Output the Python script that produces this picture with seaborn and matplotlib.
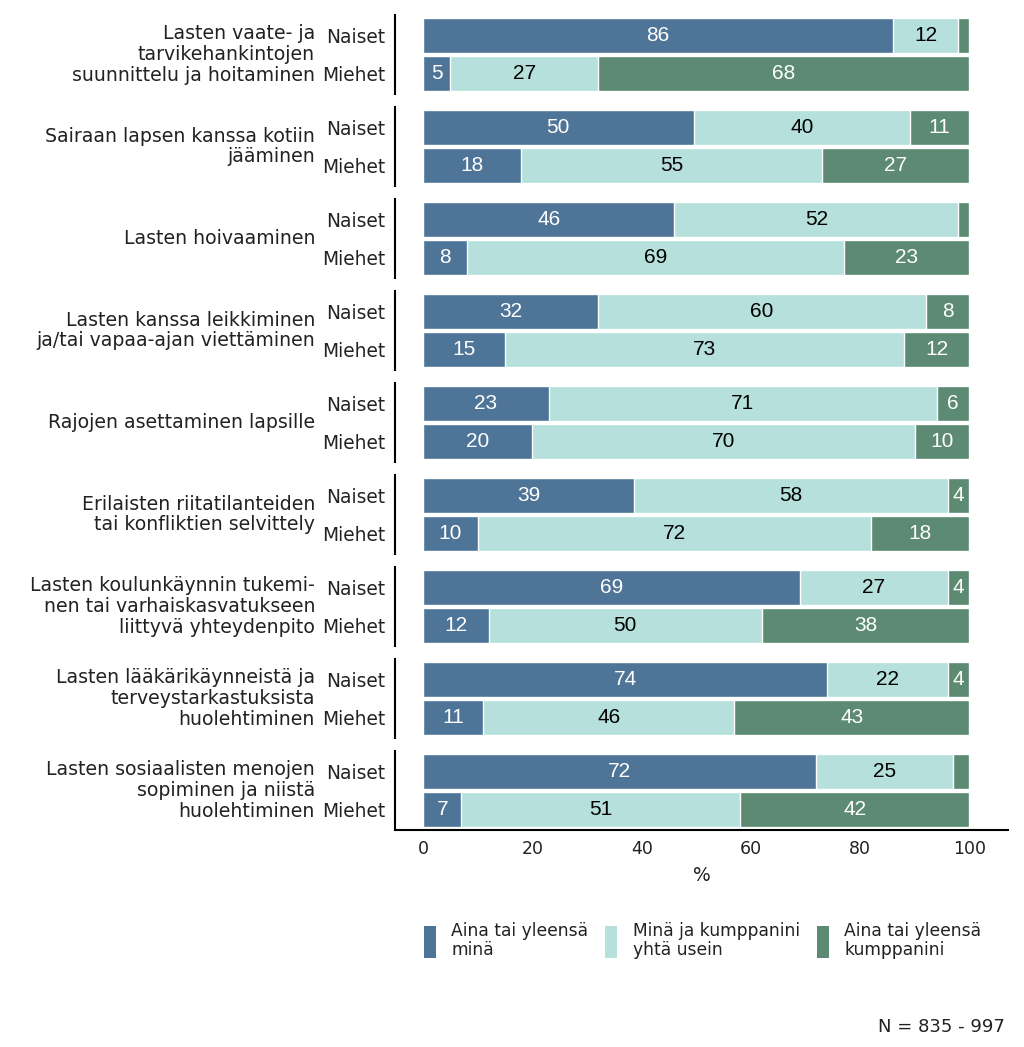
import numpy as np
import matplotlib
matplotlib.use('Agg')
import matplotlib.pyplot as plt
from matplotlib.patches import Patch
import seaborn as sns

# data
groups = [
    'Lasten vaate- ja\ntarvikehankintojen\nsuunnittelu ja hoitaminen',
    'Sairaan lapsen kanssa kotiin\njääminen',
    'Lasten hoivaaminen',
    'Lasten kanssa leikkiminen\nja/tai vapaa-ajan viettäminen',
    'Rajojen asettaminen lapsille',
    'Erilaisten riitatilanteiden\ntai konfliktien selvittely',
    'Lasten koulunkäynnin tukemi-\nnen tai varhaiskasvatukseen\nliittyvä yhteydenpito',
    'Lasten lääkärikäynneistä ja\nterveystarkastuksista\nhuolehtiminen',
    'Lasten sosiaalisten menojen\nsopiminen ja niistä\nhuolehtiminen',
]
genders = ['Naiset', 'Miehet']
series = ['Aina tai yleensä\nminä', 'Minä ja kumppanini\nyhtä usein', 'Aina tai yleensä\nkumppanini']

naiset_mina = [86, 50, 46, 32, 23, 39, 69, 74, 72]
naiset_yhta = [12, 40, 52, 60, 71, 58, 27, 22, 25]
naiset_kump = [2, 11, 2, 8, 6, 4, 4, 4, 3]
miehet_mina = [5, 18, 8, 15, 20, 10, 12, 11, 7]
miehet_yhta = [27, 55, 69, 73, 70, 72, 50, 46, 51]
miehet_kump = [68, 27, 23, 12, 10, 18, 38, 43, 42]

colors = ['#4e7497', '#b5e0dc', '#5c8a72']
text_colors = ['white', 'black', 'white']

sns.set_style('white')
label_font = ['DejaVu Sans']
num_font = ['Liberation Sans', 'DejaVu Sans']
plt.rcParams['font.family'] = label_font
plt.rcParams['text.color'] = '#222222'

fig, axs = plt.subplots(9, 1, figsize=(10.24, 10.47), dpi=100, sharex=True)
fig.subplots_adjust(left=0.386, right=0.984, top=1 - 15 / 1047, bottom=1 - 830 / 1047, hspace=0.165)

for i, ax in enumerate(axs):
    rows = [
        [naiset_mina[i], naiset_yhta[i], naiset_kump[i]],
        [miehet_mina[i], miehet_yhta[i], miehet_kump[i]],
    ]
    rows = [np.array(r, dtype=float) for r in rows]
    widths = np.array([r / r.sum() * 100 for r in rows])
    cum = np.cumsum(widths, axis=1)

    # layered cumulative bars: last segment first
    for k in [2, 1, 0]:
        sns.barplot(x=cum[:, k], y=genders, color=colors[k], orient='h', width=0.9,
                    edgecolor='white', linewidth=1, saturation=1, ax=ax)

    for r in range(2):
        for k in range(3):
            v = rows[r][k]
            if v < 4:
                continue
            xc = cum[r, k] - widths[r, k] / 2
            ax.text(xc, r, f'{int(v)}', ha='center', va='center', color=text_colors[k],
                    fontsize=15, family=num_font)

    ax.set_xlim(-5.1, 107)
    ax.set_ylim(1.54, -0.54)
    ax.set_xlabel('')
    ax.set_ylabel('')
    for s in ['top', 'right']:
        ax.spines[s].set_visible(False)
    ax.spines['left'].set_color('black')
    ax.spines['left'].set_linewidth(1.5)
    if i < 8:
        ax.spines['bottom'].set_visible(False)
        ax.tick_params(axis='x', length=0, labelbottom=False)
    else:
        ax.spines['bottom'].set_color('black')
        ax.spines['bottom'].set_linewidth(1.5)
    ax.tick_params(axis='y', length=0, pad=7, labelsize=13.4, labelcolor='#222222')

    bb = ax.get_position()
    fig.text(315 / 1024, (bb.y0 + bb.y1) / 2, groups[i], ha='right', va='center',
             fontsize=13.6, linespacing=1.12)

last = axs[-1]
last.set_xticks([0, 20, 40, 60, 80, 100])
last.tick_params(axis='x', length=0, pad=7, labelsize=12.5, labelcolor='#222222')
last.set_xlabel('%', fontsize=13.5, labelpad=6, color='#222222')

handles = [Patch(facecolor=c, edgecolor='none') for c in colors]
leg = fig.legend(handles, series, loc='center', bbox_to_anchor=(0.686, 0.102), ncol=3, frameon=False,
                 handlelength=0.7, handleheight=2.5, handletextpad=0.9,
                 columnspacing=1.0, prop={'family': label_font, 'size': 12.3})
for t in leg.get_texts():
    t.set_linespacing(1.1)

fig.text(1005 / 1024, 1 - 1027 / 1047, 'N = 835 - 997', ha='right', va='center', fontsize=13)

fig.savefig('out.png', dpi=100, facecolor='white')
